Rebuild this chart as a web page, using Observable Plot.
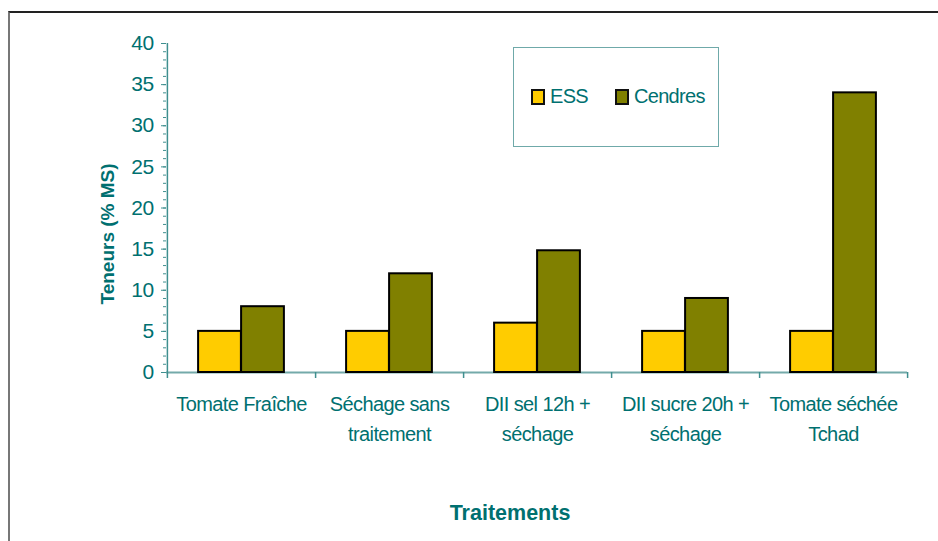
<!DOCTYPE html>
<html>
<head>
<meta charset="utf-8">
<script src="https://cdn.jsdelivr.net/npm/d3@7"></script>
<script src="https://cdn.jsdelivr.net/npm/@observablehq/plot@0.6"></script>
<style>
  html, body { margin: 0; padding: 0; background: #fff; }
  #wrap { position: relative; width: 938px; height: 541px; overflow: hidden; font-family: "Liberation Sans", Arial, sans-serif; }
  #wrap svg { position: absolute; left: 0; top: 0; }
  #border { position: absolute; left: 8px; top: 11px; width: 940px; height: 540px; border-top: 2px solid #222; border-left: 2px solid #777; pointer-events: none; }
  #legend { position: absolute; left: 513px; top: 47px; width: 206px; height: 100px; box-sizing: border-box; border: 1.5px solid #6fa9a9; background: #fff; }
  .sw { position: absolute; width: 14px; height: 16px; box-sizing: border-box; border: 2px solid #111; }
  .lt { position: absolute; font-size: 20px; color: #007070; letter-spacing: -0.7px; line-height: 20px; }
</style>
</head>
<body>
<div id="wrap">
  <div id="border"></div>
</div>
<script>
// ---- data ----
const categories = ["Tomate Fraîche", "Séchage sans traitement", "DII sel 12h + séchage", "DII sucre 20h + séchage", "Tomate séchée Tchad"];
const tickLabels = ["Tomate Fraîche", "Séchage sans\ntraitement", "DII sel 12h +\nséchage", "DII sucre 20h +\nséchage", "Tomate séchée\nTchad"];
const seriesNames = ["ESS", "Cendres"];
const essValues = [5, 5, 6, 5, 5];
const cendresValues = [8, 12, 14.8, 9, 34];
const yTicks = [0, 5, 10, 15, 20, 25, 30, 35, 40];
const yMinorTicks = d3.range(0, 41, 1);
const yLabel = "Teneurs (% MS)";
const xLabel = "Traitements";

// ---- style ----
const colors = ["#FFCC00", "#808000"];
const textColor = "#007070";
const axisColor = "#3f8f8f";
const baseColor = "#74aaaa";

const W = 938, H = 541, mL = 166, mR = 31, mT = 43, mB = 169;
const step = (W - mL - mR) / categories.length;
const barW = 43;
const outer = (step - 2 * barW) / 2;

const rows = categories.map((c, i) => ({cat: c, ess: essValues[i], cendres: cendresValues[i]}));
const labelOf = new Map(categories.map((c, i) => [c, tickLabels[i]]));

const chart = Plot.plot({
  width: W, height: H,
  marginLeft: mL, marginRight: mR, marginTop: mT, marginBottom: mB,
  style: {background: "transparent", fontFamily: "'Liberation Sans', Arial, sans-serif", color: textColor},
  x: {type: "band", domain: categories, paddingInner: 0, paddingOuter: 0, axis: null},
  y: {domain: [0, 40], axis: null},
  marks: [
    // axis lines
    Plot.ruleY([0], {stroke: baseColor, strokeWidth: 2}),
    Plot.ruleX([categories[0]], {x: d => d, dx: -step / 2, y1: 0, y2: 40, stroke: axisColor, strokeWidth: 1.5}),
    // category separators
    Plot.ruleX([categories[0]], {x: d => d, dx: -step / 2, y1: 0, y2: 0, insetTop: 6, stroke: axisColor, strokeWidth: 1.5}),
    Plot.ruleX(categories, {x: d => d, dx: step / 2, y1: 0, y2: 0, insetTop: 6, stroke: axisColor, strokeWidth: 1.5}),
    // bars
    Plot.barY(rows, {x: "cat", y: "ess", fill: colors[0], stroke: "#000", strokeWidth: 2, insetLeft: outer, insetRight: step - outer - barW}),
    Plot.barY(rows, {x: "cat", y: "cendres", fill: colors[1], stroke: "#000", strokeWidth: 2, insetLeft: outer + barW, insetRight: outer}),
    // y axis ticks
    Plot.axisY({ticks: yMinorTicks, tickSize: 3, text: null, label: null, stroke: axisColor}),
    Plot.axisY({ticks: yTicks, tickSize: 5, tickPadding: 8, label: null, stroke: axisColor, fill: textColor, fontSize: 21, tickFormat: d => String(d)}),
    // x tick labels
    Plot.axisX({tickSize: 0, tickPadding: 17, label: null, fill: textColor, fontSize: 20, lineHeight: 1.5, tickFormat: d => labelOf.get(d)}),
    // axis titles
    Plot.text([yLabel], {text: d => d, frameAnchor: "left", textAnchor: "middle", rotate: -90, dx: -59, dy: 26, fill: textColor, fontSize: 19, fontWeight: "bold"}),
    Plot.text([xLabel], {text: d => d, frameAnchor: "bottom", textAnchor: "middle", dx: -27, dy: 147, fill: textColor, fontSize: 21.5, fontWeight: "bold"})
  ]
});
const svg = d3.select(chart);
svg.selectAll("text").style("letter-spacing", "-0.6px");
svg.selectAll("text").filter(function () { return this.getAttribute("font-weight") === "bold" || this.parentNode.getAttribute("font-weight") === "bold"; }).style("letter-spacing", "0px");
const wrap = document.getElementById("wrap");
wrap.insertBefore(chart, wrap.firstChild);

// legend (HTML)
const legend = document.createElement("div");
legend.id = "legend";
const items = [{x: 17, tx: 36}, {x: 101, tx: 120}];
seriesNames.forEach((name, i) => {
  const sw = document.createElement("div");
  sw.className = "sw";
  sw.style.left = items[i].x + "px";
  sw.style.top = "41px";
  sw.style.background = colors[i];
  legend.appendChild(sw);
  const t = document.createElement("div");
  t.className = "lt";
  t.style.left = items[i].tx + "px";
  t.style.top = "38px";
  t.textContent = name;
  legend.appendChild(t);
});
wrap.appendChild(legend);
</script>
</body>
</html>
